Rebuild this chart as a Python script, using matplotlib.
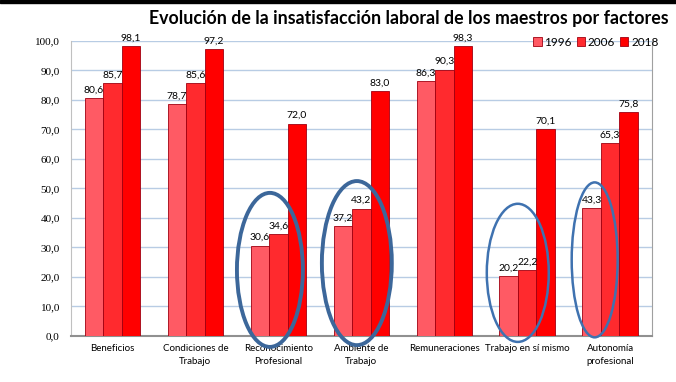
import numpy as np
import matplotlib
matplotlib.use("Agg")
import matplotlib.pyplot as plt
from matplotlib.patches import Ellipse, Rectangle

# data
categories = ["Beneficios", "Condiciones de\nTrabajo", "Reconocimiento\nProfesional",
              "Ambiente de\nTrabajo", "Remuneraciones", "Trabajo en sí mismo",
              "Autonomía\nprofesional"]
years = ["1996", "2006", "2018"]
v1996 = [80.6, 78.7, 30.6, 37.2, 86.3, 20.2, 43.3]
v2006 = [85.7, 85.6, 34.6, 43.2, 90.3, 22.2, 65.3]
v2018 = [98.1, 97.2, 72.0, 83.0, 98.3, 70.1, 75.8]
yticks = np.arange(0, 101, 10)

colors = ["#ff5a64", "#ff2a2e", "#ff0000"]
font = "Lato"

fig = plt.figure(figsize=(6.76, 3.82), dpi=100)
ax = fig.add_axes([0.105, 0.1204, 0.859, 0.7726])

x = np.arange(len(categories))
w = 0.223
for k, (vals, col) in enumerate(zip([v1996, v2006, v2018], colors)):
    bars = ax.bar(x + (k - 1) * w, vals, w, color=col, edgecolor="#a00010",
                  linewidth=0.6, label=years[k], zorder=3)
    for b, v in zip(bars, vals):
        ax.text(b.get_x() + b.get_width() / 2, v + 1.2, f"{v:.1f}".replace(".", ","),
                ha="center", va="bottom", fontsize=7.5, family=font, zorder=4)

ax.set_xlim(-0.5, len(categories) - 0.5)
ax.set_ylim(0, 100)
ax.set_yticks(yticks)
ax.set_yticklabels([f"{t:.1f}".replace(".", ",") for t in yticks],
                   family="Liberation Serif", fontsize=8)
ax.set_xticks(x)
ax.set_xticklabels(categories, family=font, fontsize=7, linespacing=1.5)
ax.tick_params(axis="x", length=0, pad=6)
ax.tick_params(axis="y", length=0, pad=8)
ax.yaxis.grid(True, color="#b8cce4", linewidth=1, zorder=0)
ax.spines["top"].set_visible(False)
ax.spines["left"].set_color("#c0c0c0")
ax.spines["right"].set_color("#a0a0a0")
ax.spines["bottom"].set_color("#909090")
ax.spines["bottom"].set_linewidth(1.5)

# hand-drawn ellipses
ellipses = [(1.898, 22.4, 0.795, 52.2, 2.8, "#3c679a"),
            (2.946, 24.7, 0.843, 55.6, 2.8, "#3c679a"),
            (4.886, 21.4, 0.747, 46.8, 1.8, "#3f72b0"),
            (5.813, 25.8, 0.554, 52.5, 1.8, "#3f72b0")]
for cx, cy, ew, eh, lw, ec in ellipses:
    ax.add_patch(Ellipse((cx, cy), ew, eh, fill=False, edgecolor=ec,
                         linewidth=lw, clip_on=False, zorder=5))

leg = fig.legend(loc="center right", bbox_to_anchor=(0.99, 0.89), ncol=3,
                 frameon=False, prop={"family": font, "size": 8.5},
                 handlelength=0.7, handleheight=0.7, handletextpad=0.25,
                 columnspacing=0.4)

fig.text(0.605, 0.952, "Evolución de la insatisfacción laboral de los maestros por factores",
         ha="center", va="center", fontsize=12.8, fontweight="bold", family=font)
fig.patches.append(Rectangle((0, 0.992), 1, 0.008, transform=fig.transFigure,
                             color="black", zorder=10))

fig.savefig("out.png", dpi=100)
